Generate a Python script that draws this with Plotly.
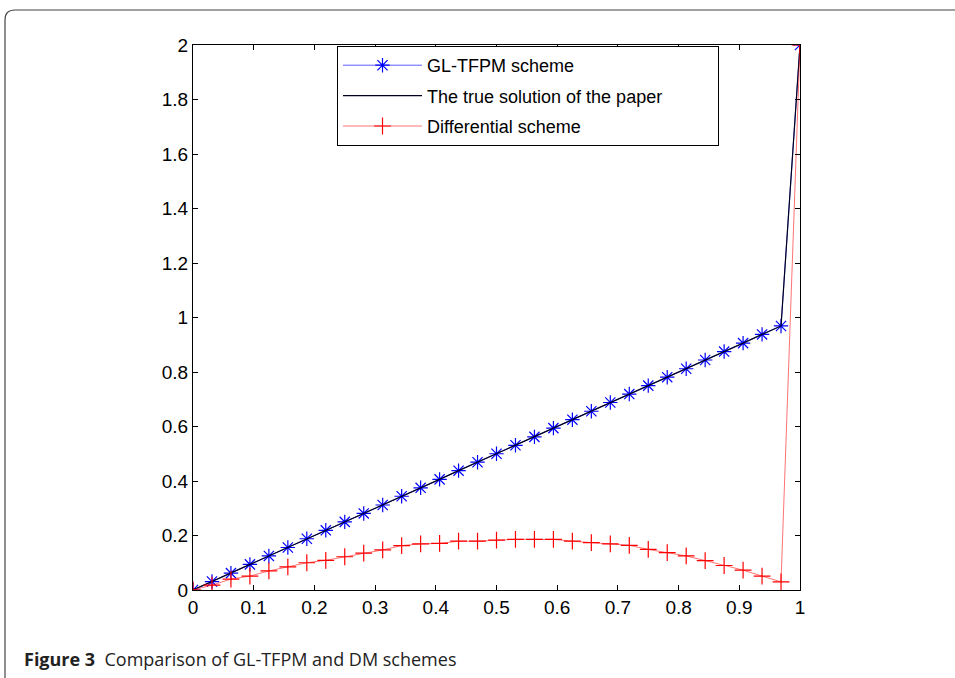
import plotly.graph_objects as go

# grid points (h = 1/32) plus the right end
x_vals = [0.0, 0.03125, 0.0625, 0.09375, 0.125, 0.15625, 0.1875, 0.21875, 0.25,
          0.28125, 0.3125, 0.34375, 0.375, 0.40625, 0.4375, 0.46875, 0.5,
          0.53125, 0.5625, 0.59375, 0.625, 0.65625, 0.6875, 0.71875, 0.75,
          0.78125, 0.8125, 0.84375, 0.875, 0.90625, 0.9375, 0.96875, 1.0]

gl_tfpm = [0.0, 0.031, 0.062, 0.094, 0.125, 0.156, 0.188, 0.219, 0.25,
           0.281, 0.312, 0.344, 0.375, 0.406, 0.438, 0.469, 0.5,
           0.531, 0.562, 0.594, 0.625, 0.656, 0.688, 0.719, 0.75,
           0.781, 0.812, 0.844, 0.875, 0.906, 0.938, 0.969, 2.0]

true_sol = [0.0, 0.031, 0.062, 0.094, 0.125, 0.156, 0.188, 0.219, 0.25,
            0.281, 0.312, 0.344, 0.375, 0.406, 0.438, 0.469, 0.5,
            0.531, 0.562, 0.594, 0.625, 0.656, 0.688, 0.719, 0.75,
            0.781, 0.812, 0.844, 0.875, 0.906, 0.938, 0.969, 2.0]

diff_scheme = [0.0, 0.018, 0.04, 0.051, 0.07, 0.085, 0.10, 0.109, 0.122,
               0.135, 0.147, 0.163, 0.169, 0.171, 0.179, 0.179, 0.183,
               0.186, 0.186, 0.186, 0.179, 0.174, 0.169, 0.164, 0.149,
               0.137, 0.125, 0.108, 0.09, 0.073, 0.051, 0.03, 2.0]

x_ticks = [0, 0.1, 0.2, 0.3, 0.4, 0.5, 0.6, 0.7, 0.8, 0.9, 1]
x_tick_text = ["0", "0.1", "0.2", "0.3", "0.4", "0.5", "0.6", "0.7", "0.8", "0.9", "1"]
y_ticks = [0, 0.2, 0.4, 0.6, 0.8, 1, 1.2, 1.4, 1.6, 1.8, 2]
y_tick_text = ["0", "0.2", "0.4", "0.6", "0.8", "1", "1.2", "1.4", "1.6", "1.8", "2"]

PAD = "\u00a0" * 10

fig = go.Figure()
fig.add_trace(go.Scatter(
    x=x_vals, y=gl_tfpm, mode="lines+markers", name="GL-TFPM scheme",
    legendgroup="a",
    line=dict(color="rgba(0,0,255,0.8)", width=0.8),
    marker=dict(symbol="asterisk-open", size=12, color="blue", line=dict(color="blue", width=1.2)),
))
fig.add_trace(go.Scatter(
    x=x_vals, y=true_sol, mode="lines", name="The true solution of the paper" + PAD,
    legendgroup="b",
    line=dict(color="#000020", width=1.2),
))
fig.add_trace(go.Scatter(
    x=x_vals, y=diff_scheme, mode="lines+markers", name="Differential scheme",
    legendgroup="c",
    line=dict(color="rgba(255,0,0,0.55)", width=1),
    marker=dict(symbol="cross-thin-open", size=12, color="red", line=dict(color="red", width=1.2)),
))

axis_common = dict(
    showgrid=False, zeroline=False, showline=True, linecolor="black", linewidth=1,
    mirror="ticks", ticks="inside", ticklen=5, tickcolor="black", tickwidth=1,
    tickfont=dict(family="Liberation Sans, Arial", size=19, color="black"),
)

fig.update_xaxes(range=[0, 1], tickvals=x_ticks, ticktext=x_tick_text, **axis_common)
fig.update_yaxes(range=[0, 2], tickvals=y_ticks, ticktext=y_tick_text, **axis_common)

# outer figure frame with rounded top-left corner (pixel -> paper conversion)
L, R, T, B = 193, 800, 45, 590
def px(v):
    return (v - L) / (R - L)
def py(v):
    return (B - v) / (B - T)
fx0, fx1 = px(5), px(960)
fy0, fy1 = py(700), py(10)
rx, ry = 10 / (R - L), 10 / (B - T)
frame_path = (f"M {fx0},{fy0} L {fx0},{fy1 - ry} Q {fx0},{fy1} {fx0 + rx},{fy1} "
              f"L {fx1},{fy1}")

fig.update_layout(
    width=955, height=678,
    margin=dict(l=L, r=955 - R, t=T, b=678 - B),
    paper_bgcolor="white", plot_bgcolor="white",
    showlegend=True,
    legend=dict(
        x=px(337), y=py(46), xanchor="left", yanchor="top",
        bgcolor="white", bordercolor="black", borderwidth=1,
        font=dict(family="Liberation Sans, Arial", size=18, color="black"),
        tracegroupgap=4, itemwidth=79,
    ),
    shapes=[dict(type="path", path=frame_path, xref="paper", yref="paper",
                 line=dict(color="#444444", width=1.2), layer="below")],
    annotations=[dict(
        x=px(22), y=py(659), xref="paper", yref="paper", xanchor="left", yanchor="middle",
        showarrow=False,
        text="<b>Figure 3</b>  Comparison of GL-TFPM and DM schemes",
        font=dict(family="Open Sans", size=18, color="#222222"),
    )],
)

fig.write_html("out.html")
